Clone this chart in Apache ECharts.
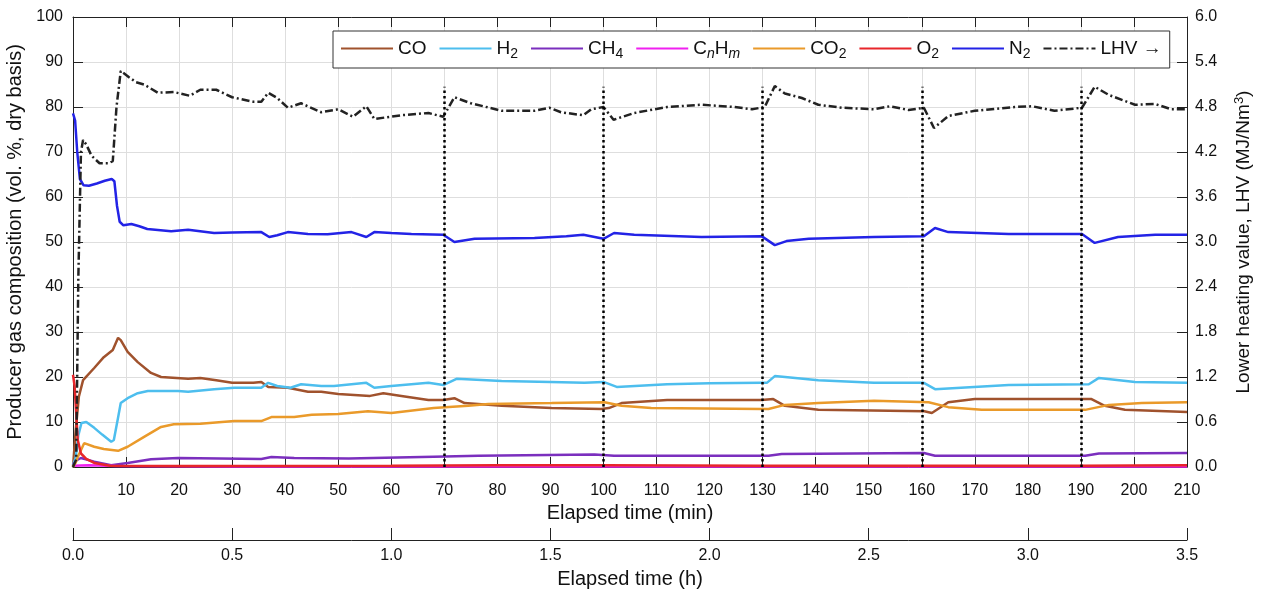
<!DOCTYPE html>
<html><head><meta charset="utf-8">
<script src="https://cdn.jsdelivr.net/npm/echarts@6/dist/echarts.min.js"></script>
<style>html,body{margin:0;padding:0;background:#fff}#c{width:1262px;height:592px}</style>
</head><body><div id="c"></div>
<script>
// ---- data (time in min, values) ----
const seriesNames = ['CO', 'H2', 'CH4', 'CnHm', 'CO2', 'O2', 'N2', 'LHV →'];
const coData = [[0,0],[0.5,8],[1.1,15.6],[1.9,19.3],[4,22],[5.8,24.4],[7.5,26],[8.5,28.7],[9,28.2],[10.3,25.6],[12.2,23.3],[14.7,20.9],[16.6,20],[21.7,19.6],[24,19.8],[27,19.3],[30,18.7],[34,18.7],[35.5,18.9],[36.8,17.8],[40.5,17.6],[44.3,16.7],[46.8,16.7],[50,16.2],[56,15.8],[58.5,16.4],[61.9,15.8],[67,14.9],[69.8,14.9],[71.9,15.3],[73.8,14.2],[80.8,13.6],[90.2,13.1],[99.6,12.9],[101,13.1],[103.4,14.2],[112,14.9],[129.8,14.9],[132,15.1],[134.2,13.6],[140.5,12.7],[160.5,12.4],[161.9,12],[165,14.4],[170,15.1],[192,15.1],[194.5,13.6],[198.3,12.7],[210,12.2]];
const h2Data = [[0,0.5],[0.5,2],[1,7],[1.6,9.8],[2.5,10],[4,8.7],[5.5,7.2],[7.2,5.6],[7.7,6],[8.5,11],[9,14.2],[10.3,15.3],[12.2,16.4],[14.1,16.9],[19.8,16.9],[21.7,16.7],[26.6,17.3],[30.4,17.6],[35.5,17.6],[36.8,18.7],[38.5,18],[41,17.6],[43,18.4],[46.8,18],[49.2,18],[55.3,18.7],[56.8,17.6],[60,18],[67,18.7],[69.8,18.2],[72.3,19.6],[80.8,19.1],[90,18.9],[96.4,18.7],[100,18.9],[102.5,17.8],[112,18.4],[120,18.6],[129.8,18.7],[130.8,18.7],[132.3,20.2],[140.5,19.3],[151,18.7],[160.4,18.7],[162.5,17.3],[176.4,18.2],[191.5,18.4],[193.4,19.8],[200.2,18.9],[210,18.7]];
const ch4Data = [[0,0.5],[0.7,1.5],[1.5,2],[4,1.2],[7.2,0.4],[10.3,0.9],[14.7,1.7],[19.8,2],[35.5,1.8],[37.4,2.2],[41.7,2],[52,1.9],[68,2.3],[76.4,2.5],[98.3,2.8],[102,2.5],[129.8,2.5],[131.1,2.5],[133.6,2.9],[160.4,3.1],[162.5,2.5],[190.8,2.5],[193.4,3.0],[210,3.1]];
const cnhmData = [[0,0.3],[3,0.4],[8,0.2],[30,0.1],[210,0.1]];
const co2Data = [[0,0],[0.5,1],[0.9,2.2],[2.1,5.3],[4,4.5],[5.8,4],[8.5,3.6],[10.3,4.5],[13.4,6.7],[16.6,8.9],[19,9.5],[24,9.6],[30.4,10.2],[35.5,10.2],[37.4,11.1],[41.7,11.1],[45,11.6],[50,11.8],[55.6,12.4],[60,12],[68,13.1],[74.5,13.6],[78.3,14],[90.2,14.2],[100.2,14.4],[103.4,13.6],[109,13.1],[129.8,12.9],[131.1,12.9],[134.2,13.8],[140.5,14.2],[151,14.7],[161.3,14.4],[165,13.3],[171.3,12.7],[190.8,12.7],[195.3,13.8],[201.5,14.2],[210,14.4]];
const o2Data = [[0,20.5],[0.3,18],[0.6,12],[0.9,6],[1.5,3],[2.5,1.8],[4,0.9],[7,0.3],[20,0.2],[60,0.3],[80,0.4],[100,0.4],[130,0.3],[160,0.3],[190,0.3],[210,0.4]];
const n2Data = [[0,78.6],[0.4,77],[0.8,70],[1.3,64],[2,62.6],[3,62.5],[4.5,63],[6,63.6],[7.3,64],[7.8,63.5],[8.3,58],[8.8,54.5],[9.5,53.7],[11,54],[12.5,53.5],[14,52.9],[18.5,52.4],[21.7,52.7],[26.6,52],[30,52.1],[35.5,52.2],[37,51.1],[38.5,51.5],[40.5,52.2],[44.3,51.8],[48,51.7],[52.5,52.2],[55.3,51.1],[56.8,52.2],[60,52],[63.8,51.8],[69.8,51.6],[71.9,50],[75.7,50.7],[87,50.9],[93,51.3],[96.2,51.6],[100,50.7],[102,52],[105.8,51.6],[118.5,51.1],[129.8,51.3],[132.3,49.3],[134.5,50.2],[138.7,50.7],[151,51.1],[160.4,51.3],[162.5,53.1],[165,52.2],[176.4,51.8],[190.2,51.8],[192.6,49.8],[197,51.1],[204,51.6],[210,51.6]];
const lhvData = [[0,0],[0.6,0.1],[1.0,2.5],[1.5,4.2],[1.9,4.36],[2.5,4.3],[3.5,4.15],[5,4.05],[6.6,4.05],[7.5,4.08],[8.2,4.8],[9,5.28],[10.5,5.2],[11.9,5.13],[13.4,5.1],[16,4.99],[19,5.0],[22,4.95],[24,5.03],[27,5.03],[30,4.93],[34,4.87],[35.5,4.87],[36.8,4.99],[38.5,4.92],[40.5,4.79],[43,4.85],[46.8,4.73],[50,4.77],[52.8,4.67],[55.3,4.81],[56.8,4.64],[61.9,4.69],[67,4.72],[69.8,4.67],[71.9,4.93],[75,4.85],[80.8,4.75],[87,4.75],[89.8,4.79],[92,4.73],[96.2,4.69],[97.7,4.77],[100,4.80],[101.9,4.63],[105.8,4.72],[112,4.80],[118.5,4.83],[124.7,4.80],[128,4.77],[130.4,4.80],[132.3,5.08],[134.2,4.98],[137.4,4.92],[140.5,4.83],[145,4.79],[151,4.77],[154,4.81],[157.5,4.76],[160.4,4.79],[162.3,4.52],[165,4.68],[170,4.75],[177.5,4.80],[180.8,4.81],[185,4.75],[190.2,4.79],[192.6,5.07],[195.3,4.96],[200.2,4.83],[204,4.84],[207,4.77],[210,4.77]];
const valveTimes = [70, 100, 130, 160, 190];
const valveLabels = ['Close valve', 'Open valve', 'Close valve', 'Open valve', 'Close valve'];
const valveTop = 84.5;
const valveLabelY = 64.5;
const minTickLabelsMax = 210;   // minutes axis 0..210
const hourTickLabelsMax = 3.5;  // hours axis 0..3.5
const lhvMax = 6.0;

// ---- styling ----
const FONT = 'Liberation Sans, Arial, Helvetica, sans-serif';
const colors = {CO:'#A0522D', H2:'#4DBEEE', CH4:'#7B2FBE', CnHm:'#F020F0', CO2:'#EA9A2A', O2:'#E8262B', N2:'#2323E6', LHV:'#222222'};
const dataMap = {CO:coData, H2:h2Data, CH4:ch4Data, CnHm:cnhmData, CO2:co2Data, O2:o2Data, N2:n2Data};
const legendRich = {
  'CO':'{t|CO}', 'H2':'{t|H}{s|2}', 'CH4':'{t|CH}{s|4}', 'CnHm':'{t|C}{i|n}{t|H}{i|m}',
  'CO2':'{t|CO}{s|2}', 'O2':'{t|O}{s|2}', 'N2':'{t|N}{s|2}', 'LHV →':'{t|LHV →}'
};

const chart = echarts.init(document.getElementById('c'), null, {renderer:'canvas'});
const axisBlack = {onZero:false, lineStyle:{color:'#222', width:1}};
const tickBlack = {color:'#222', width:1};
const series = [];
['CO','H2','CH4','CnHm','CO2','O2','N2'].forEach(k => {
  series.push({name:k, type:'line', xAxisIndex:0, yAxisIndex:0, data:dataMap[k], symbol:'none',
    lineStyle:{color:colors[k], width:2.5}, itemStyle:{color:colors[k]}, silent:true});
});
series.push({name:'LHV →', type:'line', xAxisIndex:0, yAxisIndex:1, data:lhvData, symbol:'none',
  lineStyle:{color:colors.LHV, width:2.5, type:[8,3,2,3]}, itemStyle:{color:colors.LHV}, silent:true, z:3});
series.push({name:'valves', type:'scatter', xAxisIndex:0, yAxisIndex:0,
  data: valveTimes.map((t,i) => [t, valveLabelY, valveLabels[i]]),
  symbolSize:1, itemStyle:{opacity:0}, silent:true,
  label:{show:true, position:'right', distance:9, formatter:p => p.data[2], color:'#111', fontSize:18, fontFamily:FONT},
  markLine:{silent:true, symbol:'none', animation:false,
    lineStyle:{color:'#000', width:2.5, type:[2.5,3]}, label:{show:false},
    data: valveTimes.map(t => [{coord:[t,0]},{coord:[t,valveTop]}])}
});

chart.setOption({
  animation:false,
  backgroundColor:'#fff',
  legend:{
    data: seriesNames, left:333, top:31, orient:'horizontal',
    backgroundColor:'#fff', borderColor:'#333', borderWidth:1, padding:[8,8,7,7],
    itemWidth:52, itemHeight:14, itemGap:12,
    itemStyle:{opacity:0},
    formatter: n => legendRich[n],
    textStyle:{color:'#111', fontFamily:FONT, fontSize:19,
      rich:{ t:{fontSize:19, fontFamily:FONT, color:'#111'},
             s:{fontSize:14, fontFamily:FONT, color:'#111', padding:[11,0,0,0]},
             i:{fontSize:14, fontFamily:FONT, color:'#111', fontStyle:'italic', padding:[11,0,0,0]} }}
  },
  grid:[
    {left:73, top:17, width:1114, height:450, containLabel:false, outerBoundsMode:'none'},
    {left:73, top:539, width:1114, height:1, containLabel:false, outerBoundsMode:'none'}
  ],
  xAxis:[
    {type:'value', gridIndex:0, position:'bottom', min:0, max:minTickLabelsMax, interval:10,
     axisLine:{show:true, ...axisBlack}, axisTick:{show:true, inside:true, length:10, lineStyle:tickBlack},
     splitLine:{show:true, lineStyle:{color:'#dedede', width:1}},
     axisLabel:{formatter:v => v===0 ? '' : String(v), color:'#111', fontSize:16, fontFamily:FONT, margin:16},
     name:'Elapsed time (min)', nameLocation:'middle', nameGap:31,
     nameTextStyle:{color:'#111', fontSize:20, fontFamily:FONT}},
    {type:'value', gridIndex:0, position:'top', min:0, max:minTickLabelsMax, interval:10,
     axisLine:{show:true, ...axisBlack}, axisTick:{show:true, inside:true, length:10, lineStyle:tickBlack},
     splitLine:{show:false}, axisLabel:{show:false}},
    {type:'value', gridIndex:1, position:'bottom', min:0, max:hourTickLabelsMax, interval:0.5,
     axisLine:{show:true, ...axisBlack}, axisTick:{show:true, inside:true, length:12, lineStyle:tickBlack},
     splitLine:{show:false},
     axisLabel:{formatter:v => v.toFixed(1), color:'#111', fontSize:16, fontFamily:FONT, margin:8},
     name:'Elapsed time (h)', nameLocation:'middle', nameGap:29,
     nameTextStyle:{color:'#111', fontSize:20, fontFamily:FONT}}
  ],
  yAxis:[
    {type:'value', gridIndex:0, position:'left', min:0, max:100, interval:10,
     axisLine:{show:true, ...axisBlack}, axisTick:{show:true, inside:true, length:10, lineStyle:tickBlack},
     splitLine:{show:true, lineStyle:{color:'#dedede', width:1}},
     axisLabel:{color:'#111', fontSize:16, fontFamily:FONT, margin:10},
     name:'Producer gas composition (vol. %, dry basis)', nameLocation:'middle', nameGap:42, nameRotate:90,
     nameTextStyle:{color:'#111', fontSize:20, fontFamily:FONT}},
    {type:'value', gridIndex:0, position:'right', min:0, max:lhvMax, interval:0.6,
     axisLine:{show:true, ...axisBlack}, axisTick:{show:true, inside:true, length:10, lineStyle:tickBlack},
     splitLine:{show:false},
     axisLabel:{formatter:v => v.toFixed(1), color:'#111', fontSize:16, fontFamily:FONT, margin:8},
     name:'Lower heating value, LHV (MJ/Nm{sup|3})', nameLocation:'middle', nameGap:46, nameRotate:90,
     nameTextStyle:{color:'#111', fontSize:19, fontFamily:FONT,
       rich:{sup:{fontSize:13, fontFamily:FONT, color:'#111', padding:[0,0,9,0]}}}},
    {type:'value', gridIndex:1, min:0, max:1, show:false}
  ],
  series: series
});
</script>
</body></html>
